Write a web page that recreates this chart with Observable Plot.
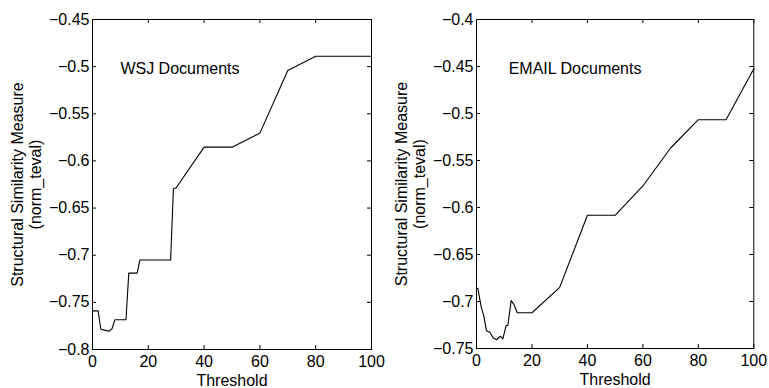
<!DOCTYPE html>
<html><head><meta charset="utf-8">
<script src="https://cdn.jsdelivr.net/npm/d3@7"></script>
<script src="https://cdn.jsdelivr.net/npm/@observablehq/plot@0.6"></script>
<style>
body{margin:0;background:#fff;}
#wrap{position:relative;width:769px;height:388px;overflow:hidden;background:#fff;}
#wrap svg{position:absolute;top:0;}
</style></head><body><div id="wrap"></div>
<script>
// ---- data ----
const thresholdWSJ = [0,2,3,5,6,7,8,12,13,16,17,28,29,30,40,50,60,70,80,100];
const valueWSJ = [-0.759,-0.759,-0.7785,-0.780,-0.7805,-0.778,-0.7685,-0.7685,-0.719,-0.719,-0.705,-0.705,-0.6296,-0.6285,-0.5854,-0.5854,-0.5705,-0.504,-0.489,-0.489];
const thresholdEMAIL = [0,0.5,1.7,2.6,3.6,4.8,6,7.2,8,8.7,9.5,10.7,11.3,12.5,13.5,14.7,20,30,40,50,60,70,80,90,100];
const valueEMAIL = [-0.686,-0.686,-0.706,-0.715,-0.731,-0.7327,-0.7386,-0.7407,-0.7386,-0.737,-0.7397,-0.7255,-0.7255,-0.699,-0.703,-0.712,-0.712,-0.685,-0.6083,-0.6083,-0.5771,-0.5367,-0.5066,-0.5066,-0.4524];
const xTicks = [0,20,40,60,80,100];
const yTicksWSJ = [-0.8,-0.75,-0.7,-0.65,-0.6,-0.55,-0.5,-0.45];
const yTicksEMAIL = [-0.75,-0.7,-0.65,-0.6,-0.55,-0.5,-0.45,-0.4];
const titleWSJ = "WSJ Documents";
const titleEMAIL = "EMAIL Documents";
const titlePosWSJ = [10, -0.5025];
const titlePosEMAIL = [11.6, -0.4524];
const xLabel = "Threshold";
const yLabel = "Structural Similarity Measure\n(norm_teval)";

const fmt = d => String(Math.round(d*100)/100).replace("-", "\u2212");

function panel({xs, ys, yTicks, title, titlePos, left, width, mL, mR, mT, mB}) {
  const height = 388;
  const innerH = height - mT - mB;
  const innerW = width - mL - mR;
  const data = xs.map((x, i) => ({x, y: ys[i]}));
  const tl = 4;
  const p = Plot.plot({
    width, height,
    marginLeft: mL, marginRight: mR, marginTop: mT, marginBottom: mB,
    style: {fontFamily: "'Liberation Sans', Arial, sans-serif", fontSize: "16px", color: "#000", background: "#fff"},
    x: {domain: [0, 100]},
    y: {domain: [yTicks[0], yTicks[yTicks.length - 1]]},
    marks: [
      Plot.frame({stroke: "#000", strokeWidth: 1}),
      Plot.ruleX(xTicks, {x: d => d, insetBottom: innerH - tl, stroke: "#000"}),
      Plot.ruleX(xTicks, {x: d => d, insetTop: innerH - tl, stroke: "#000"}),
      Plot.ruleY(yTicks, {y: d => d, insetRight: innerW - tl, stroke: "#000"}),
      Plot.ruleY(yTicks, {y: d => d, insetLeft: innerW - tl, stroke: "#000"}),
      Plot.axisX(xTicks, {tickSize: 0, tickPadding: 6, tickFormat: fmt, label: null, fontSize: 16}),
      Plot.axisY(yTicks, {tickSize: 0, tickPadding: 3, tickFormat: fmt, label: null, fontSize: 16}),
      Plot.text([xLabel], {frameAnchor: "bottom", dy: 36, lineAnchor: "bottom", fontSize: 16, text: d => d}),
      Plot.text([yLabel], {frameAnchor: "left", dx: -82, rotate: -90, lineAnchor: "top", textAnchor: "middle", fontSize: 16, lineHeight: 1.1, text: d => d}),
      Plot.line(data, {x: "x", y: "y", stroke: "#000", strokeWidth: 1.1}),
      Plot.text([title], {x: () => titlePos[0], y: () => titlePos[1], textAnchor: "start", lineAnchor: "middle", fontSize: 16, text: d => d})
    ]
  });
  p.style.left = left + "px";
  document.getElementById("wrap").appendChild(p);
}

panel({xs: thresholdWSJ, ys: valueWSJ, yTicks: yTicksWSJ, title: titleWSJ, titlePos: titlePosWSJ,
  left: 0, width: 385, mL: 92, mR: 14, mT: 19, mB: 39});
panel({xs: thresholdEMAIL, ys: valueEMAIL, yTicks: yTicksEMAIL, title: titleEMAIL, titlePos: titlePosEMAIL,
  left: 385, width: 384, mL: 91, mR: 15.7, mT: 19, mB: 40});
</script></body></html>
